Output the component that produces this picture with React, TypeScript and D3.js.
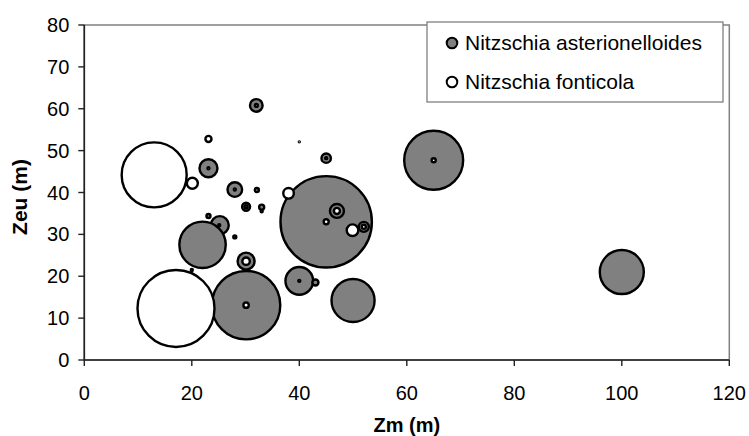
import React from "react";
import * as d3 from "d3";

// Series 1: Nitzschia asterionelloides (grey)
const astZm = [45, 25.2, 22, 30.1, 65, 100, 50, 40, 23.1, 30.1, 28, 47, 32, 52, 45, 30.1, 23.1, 33, 43, 32.1, 28, 20, 40];
const astZeu = [33, 32.2, 27.5, 13.1, 47.7, 21, 14.2, 18.9, 45.8, 23.6, 40.7, 35.6, 60.8, 31.8, 48.2, 36.6, 34.4, 36.5, 18.5, 40.6, 29.4, 21.5, 52.1];
const astSize = [50, 1.94, 12.9, 28.0, 20.8, 11.6, 11.1, 4.6, 1.94, 1.73, 1.28, 1.17, 0.95, 0.6, 0.53, 0.38, 0.096, 0.15, 0.22, 0.1, 0.054, 0.024, 0.006];

// Series 2: Nitzschia fonticola (white)
const fonZm = [17.06, 13, 20.1, 23.1, 38, 49.9, 30.1, 47, 45, 30.1, 65, 52, 40, 23.1, 28, 32, 45, 30.1, 25.1, 33];
const fonZeu = [12.3, 44.2, 42.2, 52.8, 39.8, 31, 23.6, 35.6, 33, 13.1, 47.7, 31.8, 18.9, 45.8, 40.7, 60.8, 48.2, 36.6, 32.2, 35.5];
const fonSize = [35.5, 25.3, 0.72, 0.22, 0.67, 0.81, 0.33, 0.22, 0.15, 0.17, 0.1, 0.1, 0.024, 0.024, 0.024, 0.054, 0.024, 0.054, 0.024, 0.024];

const xTicks = [0, 20, 40, 60, 80, 100, 120];
const yTicks = [0, 10, 20, 30, 40, 50, 60, 70, 80];
const seriesNames = ["Nitzschia asterionelloides", "Nitzschia fonticola"];
const seriesFills = ["#808080", "#ffffff"];

const W = 749, H = 436;
const L = 84.3, R = 729.3, T = 25, B = 360;
const FONT = "'Liberation Sans', Arial, sans-serif";

export default function App() {
  const x = d3.scaleLinear().domain([0, 120]).range([L, R]);
  const y = d3.scaleLinear().domain([0, 80]).range([B, T]);
  const r = d3.scaleSqrt().domain([0, 50]).range([0, 45.7]);

  const series = [
    { zm: astZm, zeu: astZeu, size: astSize, fill: seriesFills[0] },
    { zm: fonZm, zeu: fonZeu, size: fonSize, fill: seriesFills[1] },
  ];

  return (
    <svg width={W} height={H} style={{ position: "absolute", left: 0, top: 0, background: "#fff" }} fontFamily={FONT}>
      <rect x={0} y={0} width={W} height={H} fill="#fff" />
      {/* plot border */}
      <rect x={L} y={T} width={R - L} height={B - T} fill="none" stroke="#808080" strokeWidth={1.5} />
      {/* bubbles */}
      {series.map((s, si) => (
        <g key={si}>
          {s.zm.map((v, i) => (
            <circle key={i} cx={x(v)} cy={y(s.zeu[i])} r={r(s.size[i])} fill={s.fill} stroke="#000" strokeWidth={2.4} />
          ))}
        </g>
      ))}
      {/* axes */}
      <line x1={L} x2={L} y1={T} y2={B} stroke="#222" strokeWidth={1.6} />
      <line x1={L} x2={R} y1={B} y2={B} stroke="#222" strokeWidth={1.6} />
      {yTicks.map((t) => (
        <g key={"y" + t}>
          <line x1={L - 6} x2={L} y1={y(t)} y2={y(t)} stroke="#222" strokeWidth={1.4} />
          <text x={L - 15} y={y(t) + 7} textAnchor="end" fontSize={20} fill="#000">{t}</text>
        </g>
      ))}
      {xTicks.map((t) => (
        <g key={"x" + t}>
          <line x1={x(t)} x2={x(t)} y1={B} y2={B + 6} stroke="#222" strokeWidth={1.4} />
          <text x={x(t)} y={400} textAnchor="middle" fontSize={20} fill="#000">{t}</text>
        </g>
      ))}
      <text x={(L + R) / 2} y={432} textAnchor="middle" fontSize={20} fontWeight="bold">Zm (m)</text>
      <text transform={`translate(27,197) rotate(-90)`} textAnchor="middle" fontSize={21} fontWeight="bold">Zeu (m)</text>
      {/* legend */}
      <rect x={427} y={22} width={296} height={80} fill="#fff" stroke="#808080" strokeWidth={1.3} />
      {seriesNames.map((n, i) => (
        <g key={n}>
          <circle cx={452} cy={43 + i * 39} r={5.3} fill={seriesFills[i]} stroke="#000" strokeWidth={2} />
          <text x={465} y={43 + i * 39 + 7} fontSize={21} fill="#000">{n}</text>
        </g>
      ))}
    </svg>
  );
}
